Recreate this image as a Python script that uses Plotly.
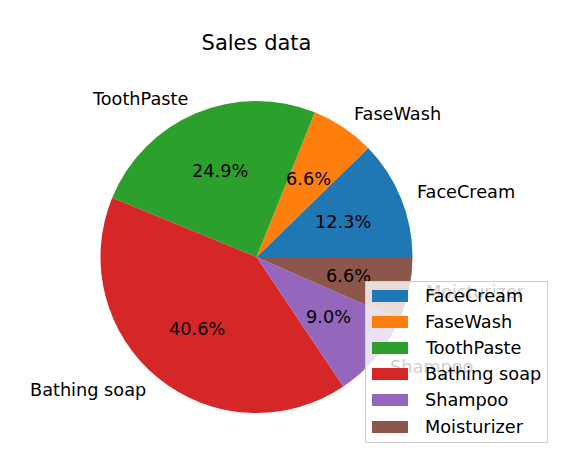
import math
import plotly.graph_objects as go

labels = ["FaceCream", "FaseWash", "ToothPaste", "Bathing soap", "Shampoo", "Moisturizer"]
values = [12.3, 6.6, 24.9, 40.6, 9.0, 6.6]
colors = ["#1f77b4", "#ff7f0e", "#2ca02c", "#d62728", "#9467bd", "#8c564b"]
title = "Sales data"

W, H = 570, 476
CX, CY, R = 256.5, 257.0, 156.0
FONT = "DejaVu Sans"
FS = 17.7


def px(x):
    return x / W


def py(y):
    return 1 - y / H


total = sum(values)
# plotly's counterclockwise pies end the first slice at `rotation`;
# shift so the first slice starts at 3 o'clock like matplotlib
rotation = 90 - values[0] / total * 360

fig = go.Figure()
fig.add_trace(go.Pie(
    labels=labels, values=values, sort=False,
    direction="counterclockwise", rotation=rotation,
    marker=dict(colors=colors, line=dict(width=0)),
    textinfo="none", showlegend=False,
    domain=dict(x=[px(CX - R), px(CX + R)], y=[py(CY + R), py(CY - R)]),
))

annotations = []
cum = 0.0
for lab, v in zip(labels, values):
    mid = math.radians((cum + v / 2) / total * 360)
    cum += v
    c, s = math.cos(mid), math.sin(mid)
    lx, ly = CX + 1.1 * R * c, CY - 1.1 * R * s
    annotations.append(dict(
        x=px(lx), y=py(ly), xref="paper", yref="paper", text=lab, showarrow=False,
        xanchor="left" if c > 0 else "right", yanchor="middle",
        font=dict(family=FONT, size=FS, color="black")))
    tx, ty = CX + 0.6 * R * c, CY - 0.6 * R * s
    annotations.append(dict(
        x=px(tx), y=py(ty), xref="paper", yref="paper", text="%.1f%%" % (v / total * 100),
        showarrow=False, xanchor="center", yanchor="middle",
        font=dict(family=FONT, size=FS, color="black")))

# legend (drawn on top, like matplotlib's)
LX0, LX1, LY0, LY1 = 365, 548, 281, 443
annotations.append(dict(
    x=px((LX0 + LX1) / 2), y=py((LY0 + LY1) / 2), xref="paper", yref="paper",
    text=" ", showarrow=False, width=LX1 - LX0 - 4, height=LY1 - LY0 - 4,
    bgcolor="rgba(255,255,255,0.8)", bordercolor="#cccccc", borderwidth=1, borderpad=1,
    xanchor="center", yanchor="middle"))
for i, (lab, col) in enumerate(zip(labels, colors)):
    yc = 295.5 + i * 26.2
    annotations.append(dict(
        x=px(390), y=py(yc), xref="paper", yref="paper", text=" ", showarrow=False,
        width=36, height=12, bgcolor=col, borderpad=0, borderwidth=0,
        xanchor="center", yanchor="middle", font=dict(size=6)))
    annotations.append(dict(
        x=px(423), y=py(yc), xref="paper", yref="paper", text=lab, showarrow=False,
        xanchor="left", yanchor="middle",
        font=dict(family=FONT, size=FS, color="black")))

fig.update_layout(
    width=W, height=H, margin=dict(l=0, r=0, t=0, b=0),
    paper_bgcolor="white", plot_bgcolor="white",
    title=dict(text=title, x=px(256.5), y=py(43), xanchor="center", yanchor="middle",
               font=dict(family=FONT, size=21, color="black")),
    annotations=annotations,
)
fig.write_html("out.html")
